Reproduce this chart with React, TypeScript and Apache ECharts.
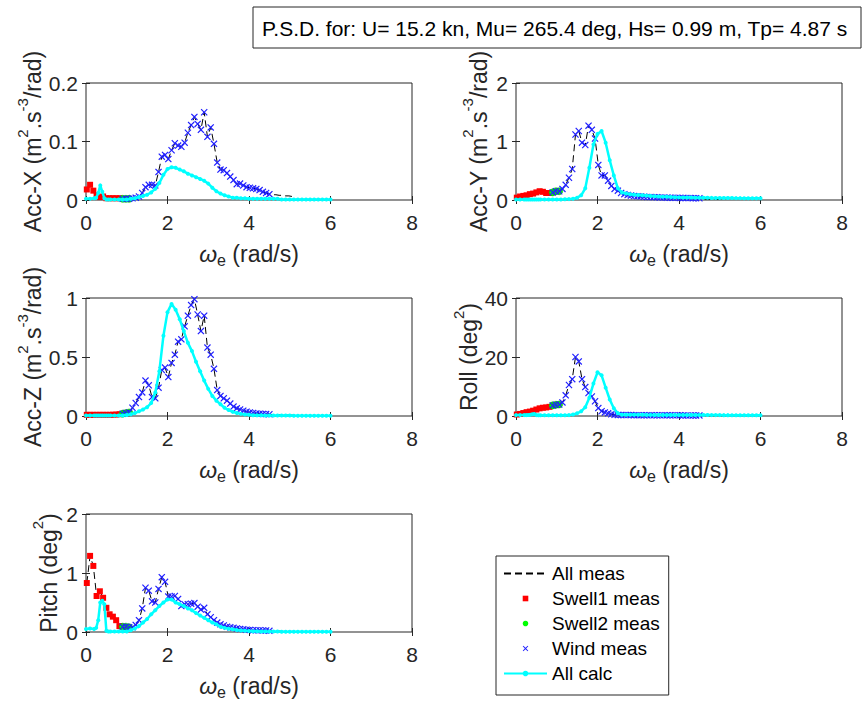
import React, { useEffect, useRef } from "react";
import * as echarts from "echarts";

// ---------------- DATA ----------------
const measFreq = [
  0.02, 0.10, 0.18, 0.26, 0.34, 0.42, 0.50, 0.58, 0.66, 0.74, 0.82,
  0.90, 0.98, 1.06,
  1.14, 1.22, 1.30, 1.38, 1.46, 1.54, 1.62, 1.70, 1.78, 1.86,
  1.94, 2.02, 2.10, 2.18, 2.26, 2.34, 2.42, 2.50, 2.58, 2.66,
  2.74, 2.82, 2.90, 2.98, 3.06, 3.14, 3.22, 3.30, 3.38, 3.46,
  3.54, 3.62, 3.70, 3.78, 3.86, 3.94, 4.02, 4.10, 4.18, 4.26,
  4.34, 4.42, 4.50,
  4.58, 4.66, 4.74, 4.82, 4.90, 4.98, 5.06, 5.14,
];

const calcFreq = [
  0, 0.1, 0.2, 0.25, 0.3, 0.35, 0.4, 0.45, 0.5, 0.55,
  0.6, 0.7, 0.8, 0.9, 1.0, 1.1, 1.2, 1.3, 1.4, 1.5,
  1.6, 1.7, 1.8, 1.9, 2.0, 2.1, 2.2, 2.3, 2.4, 2.5,
  2.6, 2.7, 2.8, 2.9, 3.0, 3.1, 3.2, 3.3, 3.4, 3.5,
  3.6, 3.7, 3.8, 3.9, 4.0, 4.1, 4.2, 4.3, 4.4, 4.5,
  4.6, 4.7, 4.8, 4.9, 5.0, 5.1, 5.2, 5.3, 5.4, 5.5,
  5.6, 5.7, 5.8, 5.9, 6.0,
];

const accXMeas = [
  0.018, 0.026, 0.016, 0.008, 0.005, 0.006, 0.003, 0.003, 0.003, 0.003, 0.003,
  0.002, 0.002, 0.002,
  0.003, 0.004, 0.006, 0.012, 0.022, 0.026, 0.026, 0.025, 0.048, 0.074,
  0.077, 0.070, 0.085, 0.097, 0.093, 0.091, 0.098, 0.115, 0.128, 0.142,
  0.130, 0.120, 0.150, 0.108, 0.124, 0.096, 0.064, 0.052, 0.051, 0.046,
  0.040, 0.034, 0.027, 0.028, 0.025, 0.022, 0.021, 0.020, 0.019, 0.017,
  0.014, 0.012, 0.010,
  0.009, 0.009, 0.008, 0.008, 0.007, 0.007, 0.006, 0.006,
];
const accXCalc = [
  0.002, 0.002, 0.003, 0.004, 0.012, 0.025, 0.014, 0.003, 0.001, 0.001,
  0.001, 0.001, 0.001, 0.001, 0.001, 0.002, 0.003, 0.005, 0.007, 0.009,
  0.013, 0.019, 0.029, 0.043, 0.053, 0.056, 0.055, 0.052, 0.049, 0.045,
  0.042, 0.039, 0.036, 0.033, 0.028, 0.021, 0.015, 0.011, 0.008, 0.006,
  0.004, 0.004, 0.003, 0.003, 0.002, 0.002, 0.002, 0.002, 0.002, 0.002,
  0.002, 0.002, 0.001, 0.001, 0.001, 0.001, 0.001, 0.001, 0.001, 0.001,
  0.001, 0.001, 0.001, 0.001, 0.001,
];

const accYMeas = [
  0.04, 0.06, 0.07, 0.08, 0.10, 0.11, 0.13, 0.15, 0.14, 0.12, 0.12,
  0.13, 0.15, 0.15,
  0.19, 0.26, 0.38, 0.53, 1.12, 1.18, 0.98, 0.94, 1.27, 1.20,
  1.05, 0.60, 0.42, 0.42, 0.33, 0.24, 0.19, 0.16, 0.12, 0.10,
  0.085, 0.075, 0.068, 0.062, 0.058, 0.055, 0.052, 0.050, 0.048, 0.046,
  0.044, 0.042, 0.040, 0.039, 0.038, 0.037, 0.036, 0.035, 0.034, 0.033,
  0.032, 0.031, 0.030,
  0.020, 0.015, 0.012, 0.010, 0.010, 0.010, 0.010, 0.010,
];
const accYCalc = [
  0.01, 0.01, 0.01, 0.01, 0.01, 0.01, 0.01, 0.01, 0.01, 0.01,
  0.01, 0.01, 0.01, 0.01, 0.01, 0.01, 0.012, 0.015, 0.02, 0.04,
  0.08, 0.2, 0.55, 0.95, 1.13, 1.18, 0.98, 0.68, 0.42, 0.2,
  0.13, 0.11, 0.10, 0.09, 0.085, 0.08, 0.075, 0.07, 0.065, 0.06,
  0.057, 0.054, 0.051, 0.048, 0.045, 0.044, 0.042, 0.041, 0.04, 0.039,
  0.038, 0.037, 0.036, 0.035, 0.034, 0.034, 0.033, 0.033, 0.032, 0.032,
  0.031, 0.031, 0.03, 0.03, 0.03,
];

const accZMeas = [
  0.01, 0.01, 0.01, 0.01, 0.01, 0.01, 0.01, 0.01, 0.011, 0.012, 0.015,
  0.02, 0.025, 0.03,
  0.07, 0.11, 0.16, 0.20, 0.30, 0.26, 0.16, 0.15, 0.24, 0.39,
  0.41, 0.33, 0.45, 0.52, 0.63, 0.65, 0.76, 0.85, 0.94, 0.99,
  0.86, 0.72, 0.85, 0.58, 0.52, 0.40, 0.22, 0.17, 0.15, 0.13,
  0.105, 0.08, 0.065, 0.055, 0.045, 0.037, 0.03, 0.026, 0.022, 0.02,
  0.018, 0.016, 0.015,
  0.012, 0.011, 0.01, 0.009, 0.008, 0.008, 0.007, 0.007,
];
const accZCalc = [
  0.005, 0.005, 0.005, 0.005, 0.005, 0.005, 0.005, 0.005, 0.005, 0.005,
  0.005, 0.005, 0.005, 0.005, 0.008, 0.015, 0.025, 0.04, 0.055, 0.075,
  0.11, 0.2, 0.38, 0.68, 0.88, 0.95, 0.9, 0.82, 0.72, 0.62,
  0.55, 0.46, 0.38, 0.3, 0.23, 0.17, 0.13, 0.1, 0.07, 0.05,
  0.035, 0.025, 0.018, 0.013, 0.01, 0.007, 0.006, 0.006, 0.005, 0.005,
  0.005, 0.004, 0.004, 0.004, 0.004, 0.003, 0.003, 0.003, 0.003, 0.003,
  0.003, 0.003, 0.003, 0.003, 0.003,
];

const rollMeas = [
  0.5, 0.7, 1.0, 1.3, 1.5, 1.8, 2.2, 2.6, 2.8, 2.9, 3.1,
  3.6, 3.8, 3.9,
  4.6, 7.0, 10.5, 12.5, 20.0, 18.5, 12.5, 9.8, 7.8, 6.6,
  5.0, 2.7, 1.6, 1.2, 0.9, 0.6, 0.4, 0.35, 0.3, 0.3,
  0.3, 0.3, 0.28, 0.28, 0.27, 0.27, 0.26, 0.26, 0.25, 0.25,
  0.25, 0.24, 0.24, 0.23, 0.23, 0.22, 0.22, 0.21, 0.21, 0.2,
  0.2, 0.2, 0.19,
  0.15, 0.12, 0.1, 0.1, 0.08, 0.08, 0.06, 0.06,
];
const rollCalc = [
  0.3, 0.3, 0.3, 0.3, 0.35, 0.4, 0.6, 0.7, 0.3, 0.25,
  0.25, 0.25, 0.25, 0.25, 0.25, 0.25, 0.25, 0.3, 0.5, 0.9,
  1.6, 3.0, 6.2, 11.0, 14.8, 13.8, 9.6, 5.6, 2.6, 0.9,
  0.45, 0.4, 0.4, 0.4, 0.39, 0.39, 0.38, 0.38, 0.37, 0.37,
  0.36, 0.36, 0.35, 0.35, 0.34, 0.34, 0.33, 0.33, 0.32, 0.32,
  0.31, 0.31, 0.3, 0.3, 0.3, 0.29, 0.29, 0.28, 0.28, 0.28,
  0.27, 0.27, 0.27, 0.26, 0.26,
];

const pitchMeas = [
  0.83, 1.29, 1.12, 0.61, 0.69, 0.58, 0.41, 0.30, 0.26, 0.20, 0.10,
  0.09, 0.09, 0.08,
  0.08, 0.12, 0.20, 0.40, 0.75, 0.70, 0.52, 0.50, 0.73, 0.93,
  0.85, 0.60, 0.60, 0.61, 0.56, 0.44, 0.47, 0.47, 0.48, 0.49,
  0.43, 0.38, 0.41, 0.30, 0.25, 0.20, 0.16, 0.13, 0.11, 0.09,
  0.08, 0.07, 0.06, 0.05, 0.045, 0.04, 0.035, 0.03, 0.03, 0.03,
  0.025, 0.025, 0.02,
  0.02, 0.015, 0.015, 0.01, 0.01, 0.01, 0.01, 0.01,
];
const pitchCalc = [
  0.05, 0.06, 0.05, 0.07, 0.2, 0.5, 0.53, 0.47, 0.02, 0.01,
  0.01, 0.01, 0.01, 0.01, 0.01, 0.03, 0.06, 0.1, 0.16, 0.22,
  0.3, 0.37, 0.44, 0.5, 0.55, 0.55, 0.5, 0.47, 0.44, 0.4,
  0.37, 0.32, 0.28, 0.24, 0.2, 0.16, 0.13, 0.09, 0.07, 0.055,
  0.045, 0.035, 0.027, 0.02, 0.017, 0.014, 0.012, 0.01, 0.009, 0.008,
  0.007, 0.007, 0.006, 0.006, 0.005, 0.005, 0.005, 0.005, 0.004, 0.004,
  0.004, 0.004, 0.004, 0.004, 0.004,
];

const yMaxes = [0.2, 2, 1, 40, 2];
const yIntervals = [0.1, 1, 0.5, 20, 1];
const yNames = [
  "{n|Acc-X (m}{s|2}{n|.s}{s|-3}{n|/rad)}",
  "{n|Acc-Y (m}{s|2}{n|.s}{s|-3}{n|/rad)}",
  "{n|Acc-Z (m}{s|2}{n|.s}{s|-3}{n|/rad)}",
  "{n|Roll (deg}{s|2}{n|)}",
  "{n|Pitch (deg}{s|2}{n|)}",
];
const xName = "{w|ω}{b|e}{n| (rad/s)}";
const measSets = [accXMeas, accYMeas, accZMeas, rollMeas, pitchMeas];
const calcSets = [accXCalc, accYCalc, accZCalc, rollCalc, pitchCalc];
const legendNames = ["All meas", "Swell1 meas", "Swell2 meas", "Wind meas", "All calc"];
const titleText = "P.S.D. for: U= 15.2 kn, Mu= 265.4 deg, Hs= 0.99 m, Tp= 4.87 s";

// index ranges in measFreq
const SWELL1_END = 11;
const SWELL2_START = 11;
const SWELL2_END = 14;
const WIND_START = 11;
const WIND_END = 57;

// ---------------- LAYOUT / STYLE ----------------
const FONT = '"Liberation Sans", Arial, Helvetica, sans-serif';
const AX = "#262626";
const gridBoxes = [
  { left: 86, top: 83, width: 326, height: 117 },
  { left: 516, top: 83, width: 326, height: 117 },
  { left: 86, top: 298, width: 326, height: 118 },
  { left: 516, top: 298, width: 326, height: 118 },
  { left: 86, top: 514, width: 326, height: 119 },
];
const yNameGaps = [36, 26, 36, 34, 26];
// filled "x" marker
const CROSS =
  "path://M0,1.2L1.2,0L5,3.8L8.8,0L10,1.2L6.2,5L10,8.8L8.8,10L5,6.2L1.2,10L0,8.8L3.8,5Z";

export default function App() {
  const ref = useRef<HTMLDivElement>(null);

  useEffect(() => {
    document.body.style.margin = "0";
    if (!ref.current) return;
    const chart = echarts.init(ref.current, undefined, { renderer: "svg" });

    const grid = gridBoxes.map((g) => ({
      ...g,
      show: true,
      borderColor: AX,
      borderWidth: 1,
      backgroundColor: "#ffffff",
      containLabel: false,
    }));

    const tick = { show: true, inside: true, length: 4, lineStyle: { color: AX, width: 1 } };
    const xAxis: any[] = [];
    const yAxis: any[] = [];
    gridBoxes.forEach((_, i) => {
      xAxis.push({
        type: "value",
        gridIndex: i,
        min: 0,
        max: 8,
        interval: 2,
        position: "bottom",
        axisLine: { show: false },
        axisTick: tick,
        splitLine: { show: false },
        axisLabel: { fontSize: 21, color: AX, fontFamily: FONT, margin: 12 },
        name: xName,
        nameLocation: "middle",
        nameGap: 42,
        nameTextStyle: {
          fontFamily: FONT,
          color: AX,
          rich: {
            w: { fontSize: 23, lineHeight: 26, verticalAlign: "top", fontStyle: "italic", fontFamily: FONT, color: AX },
            n: { fontSize: 23, lineHeight: 26, verticalAlign: "top", fontFamily: FONT, color: AX },
            b: { fontSize: 16, lineHeight: 16, verticalAlign: "bottom", fontFamily: FONT, color: AX },
          },
        },
      });
      yAxis.push({
        type: "value",
        gridIndex: i,
        min: 0,
        max: yMaxes[i],
        interval: yIntervals[i],
        position: "left",
        axisLine: { show: false },
        axisTick: tick,
        splitLine: { show: false },
        axisLabel: { fontSize: 21, color: AX, fontFamily: FONT, margin: 8 },
        name: yNames[i],
        nameLocation: "middle",
        nameRotate: 90,
        nameGap: yNameGaps[i],
        nameTextStyle: {
          fontFamily: FONT,
          color: AX,
          rich: {
            n: { fontSize: 23, lineHeight: 30, verticalAlign: "bottom", fontFamily: FONT, color: AX },
            s: { fontSize: 15, lineHeight: 15, verticalAlign: "top", fontFamily: FONT, color: AX },
          },
        },
      });
    });
    // secondary axes for top / right ticks
    gridBoxes.forEach((_, i) => {
      xAxis.push({
        type: "value",
        gridIndex: i,
        min: 0,
        max: 8,
        interval: 2,
        position: "top",
        axisLine: { show: false },
        axisTick: tick,
        splitLine: { show: false },
        axisLabel: { show: false },
      });
      yAxis.push({
        type: "value",
        gridIndex: i,
        min: 0,
        max: yMaxes[i],
        interval: yIntervals[i],
        position: "right",
        axisLine: { show: false },
        axisTick: tick,
        splitLine: { show: false },
        axisLabel: { show: false },
      });
    });

    const series: any[] = [];
    measSets.forEach((meas, i) => {
      const all = measFreq.map((f, k) => [f, meas[k]]);
      const calc = calcFreq.map((f, k) => [f, calcSets[i][k]]);
      const common = { type: "line", xAxisIndex: i, yAxisIndex: i, silent: true, emphasis: { disabled: true } };
      series.push({
        ...common,
        name: legendNames[0],
        data: all,
        showSymbol: false,
        symbol: "circle",
        lineStyle: { color: "#000000", width: 1, type: [7, 4] },
        itemStyle: { color: "#000000" },
        z: 2,
      });
      series.push({
        ...common,
        name: legendNames[1],
        data: all.slice(0, SWELL1_END),
        symbol: "rect",
        symbolSize: 6,
        showSymbol: true,
        lineStyle: { color: "#ff0000", width: 0, opacity: 0 },
        itemStyle: { color: "#ff0000" },
        z: 3,
      });
      series.push({
        ...common,
        name: legendNames[2],
        data: all.slice(SWELL2_START, SWELL2_END),
        symbol: "circle",
        symbolSize: 7,
        showSymbol: true,
        lineStyle: { color: "#00ff00", width: 0, opacity: 0 },
        itemStyle: { color: "#00ff00", borderColor: "#00b000", borderWidth: 0.5 },
        z: 4,
      });
      series.push({
        ...common,
        name: legendNames[3],
        data: all.slice(WIND_START, WIND_END),
        symbol: CROSS,
        symbolSize: 7,
        showSymbol: true,
        lineStyle: { color: "#0000ff", width: 0, opacity: 0 },
        itemStyle: { color: "#2020ff" },
        z: 5,
      });
      series.push({
        ...common,
        name: legendNames[4],
        data: calc,
        symbol: "circle",
        symbolSize: 4,
        showSymbol: true,
        lineStyle: { color: "#00ffff", width: 2.5 },
        itemStyle: { color: "#00ffff" },
        z: 6,
      });
    });

    chart.setOption({
      animation: false,
      textStyle: { fontFamily: FONT },
      grid,
      xAxis,
      yAxis,
      series,
      legend: {
        orient: "vertical",
        left: 496,
        top: 556,
        itemWidth: 43,
        itemHeight: 7,
        itemGap: 6,
        padding: [8, 9, 12, 7],
        selectedMode: false,
        backgroundColor: "#ffffff",
        borderColor: AX,
        borderWidth: 1,
        textStyle: { fontSize: 19, lineHeight: 19, color: "#000000", fontFamily: FONT },
        data: [
          { name: legendNames[0], itemStyle: { opacity: 0 } },
          { name: legendNames[1] },
          { name: legendNames[2], itemStyle: { borderWidth: 0 } },
          { name: legendNames[3], itemStyle: { color: "#2020ff", borderWidth: 0 } },
          { name: legendNames[4], lineStyle: { width: 2 } },
        ],
      },
      graphic: [
        {
          type: "rect",
          z: 100,
          shape: { x: 253, y: 7, width: 608, height: 41 },
          style: { fill: "#ffffff", stroke: AX, lineWidth: 1 },
        },
        {
          type: "text",
          z: 101,
          x: 262,
          y: 28,
          style: {
            text: titleText,
            fontSize: 21,
            fontFamily: FONT,
            fill: "#000000",
            verticalAlign: "middle",
            align: "left",
          },
        },
      ],
    });

    return () => chart.dispose();
  }, []);

  return <div ref={ref} style={{ width: 863, height: 701 }} />;
}
